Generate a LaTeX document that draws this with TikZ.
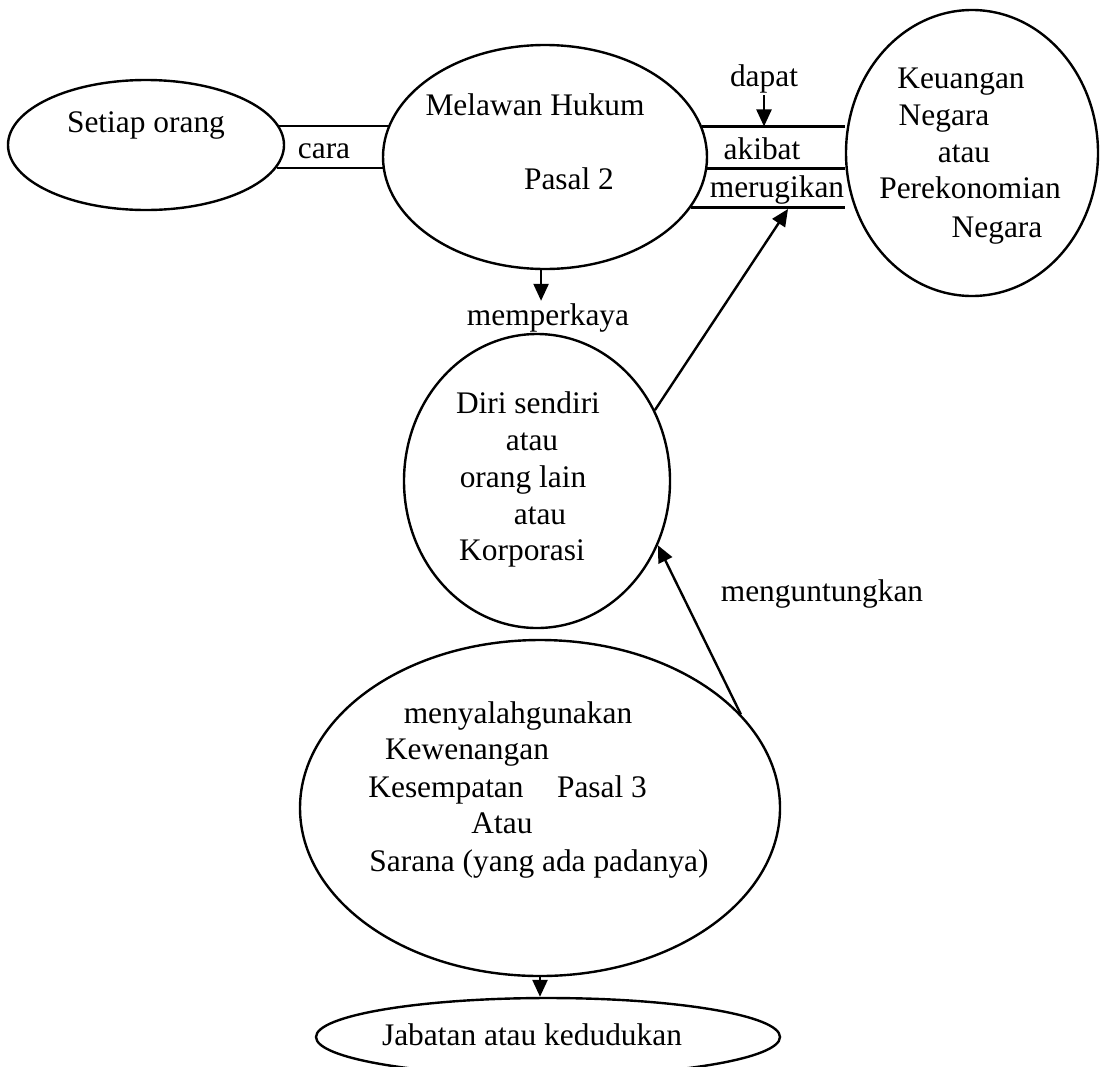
\documentclass[tikz,border=0pt]{standalone}
\usepackage{fontspec}
\setmainfont{Liberation Serif}
\usetikzlibrary{shapes.geometric,arrows.meta}

\begin{document}
\begin{tikzpicture}[x=0.5pt,y=-0.5pt,
        elipse/.style={draw, ellipse, line width=1.2pt, inner sep=0pt},
        etiqueta/.style={anchor=base, inner sep=1pt, font=\fontsize{15.7}{18}\selectfont},
        linea/.style={line width=1.2pt},
        flecha/.style={line width=1.2pt, -{Triangle[length=8.5pt,width=7.5pt]}}]
            % marco de la figura
            \useasboundingbox (0,0) rectangle (1101,1066);
            \clip (0,0) rectangle (1101,1066);

            % elipses (el ancho y alto se dan en pt = semiejes en px)
            \node[elipse, minimum width=138pt, minimum height=65pt] (setiap) at (146,145) {};
            \node[elipse, minimum width=162pt, minimum height=112pt] (melawan) at (545,157) {};
            \node[elipse, minimum width=126pt, minimum height=143pt] (keuangan) at (972,153) {};
            \node[elipse, minimum width=133pt, minimum height=147pt] (diri) at (537,481) {};
            \node[elipse, minimum width=240pt, minimum height=168pt] (kewenangan) at (540,808) {};
            \node[elipse, minimum width=232pt, minimum height=39pt] (jabatan) at (548,1037) {};

            % textos, cada linea en su sitio
            \foreach \nombre/\px/\py/\texto in {
                tsetiap/146/132/Setiap orang,
                tmelawan/535/115/Melawan Hukum,
                tpasal2/569/189/Pasal 2,
                cara/324/158/cara,
                dapat/764/86/dapat,
                akibat/762/159/akibat,
                merugikan/777/197/merugikan,
                tkeu1/961/88/Keuangan,
                tkeu2/944/125/Negara,
                tkeu3/964/162/atau,
                tkeu4/970/198/Perekonomian,
                tkeu5/997/237/Negara,
                memperkaya/548/325/memperkaya,
                tdiri1/528/413/Diri sendiri,
                tdiri2/532/450/atau,
                tdiri3/523/487/orang lain,
                tdiri4/540/524/atau,
                tdiri5/522/560/Korporasi,
                menguntungkan/822/601/menguntungkan,
                tkew1/518/723/menyalahgunakan,
                tkew2/467/759/Kewenangan,
                tkew3/446/797/Kesempatan,
                tkew4/602/797/Pasal 3,
                tkew5/502/833/Atau,
                tkew6/539/871/Sarana (yang ada padanya),
                tjabatan/532/1045/Jabatan atau kedudukan}
                \node[etiqueta] (\nombre) at (\px,\py) {\texto};

            % doble linea entre Setiap orang y Melawan Hukum
            \draw[linea] (setiap.8.7) -- (setiap.8.7 -| melawan.168.3);
            \draw[linea] (setiap.-10.6) -- (setiap.-10.6 -| melawan.-175.7);

            % tres lineas hacia Keuangan Negara
            \foreach \ang in {11.7,-4.3,-19.9}
                \draw[linea] (melawan.\ang) -- (melawan.\ang -| keuangan.west);

            % flechas
            \coordinate (rugi) at (788,209);
            \draw[flecha] (dapat.south) -- (dapat.south |- melawan.11.7);
            \draw[flecha] (melawan.-92) -- (melawan.-92 |- memperkaya.north);
            \draw[flecha] (diri.31.3) -- (rugi);
            \draw[flecha] (kewenangan.25.5) -- (diri.-28.8);
            \draw[flecha] (kewenangan.south) -- (kewenangan.south |- jabatan.north);
        \end{tikzpicture}
\end{document}
